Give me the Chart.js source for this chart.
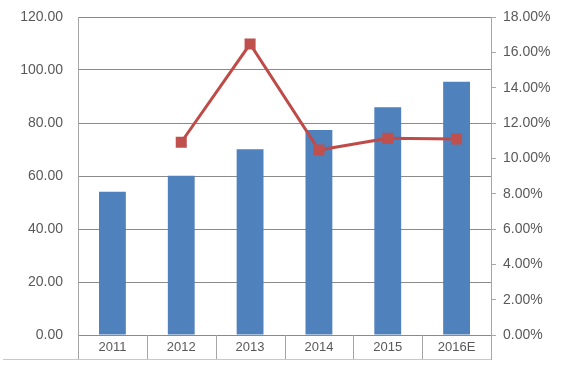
<!DOCTYPE html>
<html>
<head>
<meta charset="utf-8">
<script src="https://cdn.jsdelivr.net/npm/chart.js@4"></script>
<style>
  html, body { margin: 0; padding: 0; background: #ffffff; }
  #wrap { width: 566px; height: 365px; position: relative; }
</style>
</head>
<body>
<div id="wrap"><canvas id="c" width="566" height="365"></canvas></div>
<script>
const categories = ['2011', '2012', '2013', '2014', '2015', '2016E'];
const barValues = [54.1, 60.1, 70.1, 77.4, 85.9, 95.6];
const growthValues = [null, 10.91, 16.47, 10.47, 11.13, 11.09];
const leftTicks = [0, 20, 40, 60, 80, 100, 120];
const rightTicks = [0, 2, 4, 6, 8, 10, 12, 14, 16, 18];

const FONT = { family: '"Liberation Sans", Arial, sans-serif', size: 13 };
const YFONT = { family: '"Liberation Sans", Arial, sans-serif', size: 14 };
const TEXT = '#595959';
const GRID = '#8a8a8a';

const separators = {
  id: 'separators',
  afterDraw(chart) {
    const ctx = chart.ctx;
    const x = chart.scales.x;
    const area = chart.chartArea;
    ctx.save();
    ctx.strokeStyle = '#a6a6a6';
    ctx.lineWidth = 1;
    const n = categories.length;
    const step = x.getPixelForValue(1) - x.getPixelForValue(0);
    for (let i = 0; i <= n; i++) {
      let px = (i < n) ? x.getPixelForValue(i) - step / 2 : x.getPixelForValue(n - 1) + step / 2;
      px = Math.round(px) + 0.5;
      ctx.beginPath();
      ctx.moveTo(px, area.bottom);
      ctx.lineTo(px, area.bottom + 25);
      ctx.stroke();
    }
    ctx.strokeStyle = '#c8c8c8';
    ctx.beginPath();
    ctx.moveTo(3, area.bottom + 24.5);
    ctx.lineTo(area.right, area.bottom + 24.5);
    ctx.stroke();
    ctx.restore();
  }
};

new Chart(document.getElementById('c'), {
  data: {
    labels: categories,
    datasets: [
      {
        type: 'line',
        data: growthValues,
        yAxisID: 'y1',
        borderColor: '#BE4B48',
        backgroundColor: '#C0504D',
        borderWidth: 3,
        pointStyle: 'rect',
        pointRadius: 7.8,
        pointBorderWidth: 0,
        pointBackgroundColor: '#C0504D',
        spanGaps: false,
        order: 0
      },
      {
        type: 'bar',
        data: barValues,
        yAxisID: 'y',
        backgroundColor: '#4F81BD',
        borderWidth: 0,
        categoryPercentage: 1,
        barPercentage: 0.39,
        order: 1
      }
    ]
  },
  options: {
    responsive: false,
    animation: false,
    devicePixelRatio: 1,
    layout: { padding: { top: 17, bottom: 0, left: 0, right: 0 } },
    plugins: { legend: { display: false }, tooltip: { enabled: false } },
    scales: {
      x: {
        afterFit(s) { s.height = 30; },
        grid: { display: false, drawTicks: false },
        border: { display: true, color: GRID, width: 1 },
        ticks: { font: FONT, color: TEXT, padding: 5 }
      },
      y: {
        position: 'left',
        min: 0, max: 120,
        afterFit(s) { s.width = 78; },
        afterBuildTicks(s) { s.ticks = leftTicks.map(v => ({ value: v })); },
        grid: { color: GRID, lineWidth: 1, drawTicks: true, tickLength: 12, tickColor: 'rgba(0,0,0,0)' },
        border: { display: true, color: '#a6a6a6', width: 1 },
        ticks: { font: YFONT, color: TEXT, padding: 3, callback: v => v.toFixed(2) }
      },
      y1: {
        position: 'right',
        min: 0, max: 18,
        afterFit(s) { s.width = 75; },
        afterBuildTicks(s) { s.ticks = rightTicks.map(v => ({ value: v })); },
        grid: { drawOnChartArea: false, drawTicks: true, tickLength: 5, color: '#a6a6a6' },
        border: { display: true, color: '#a6a6a6', width: 1 },
        ticks: { font: YFONT, color: TEXT, padding: 7, callback: v => v.toFixed(2) + '%' }
      }
    }
  },
  plugins: [separators]
});
</script>
</body>
</html>
